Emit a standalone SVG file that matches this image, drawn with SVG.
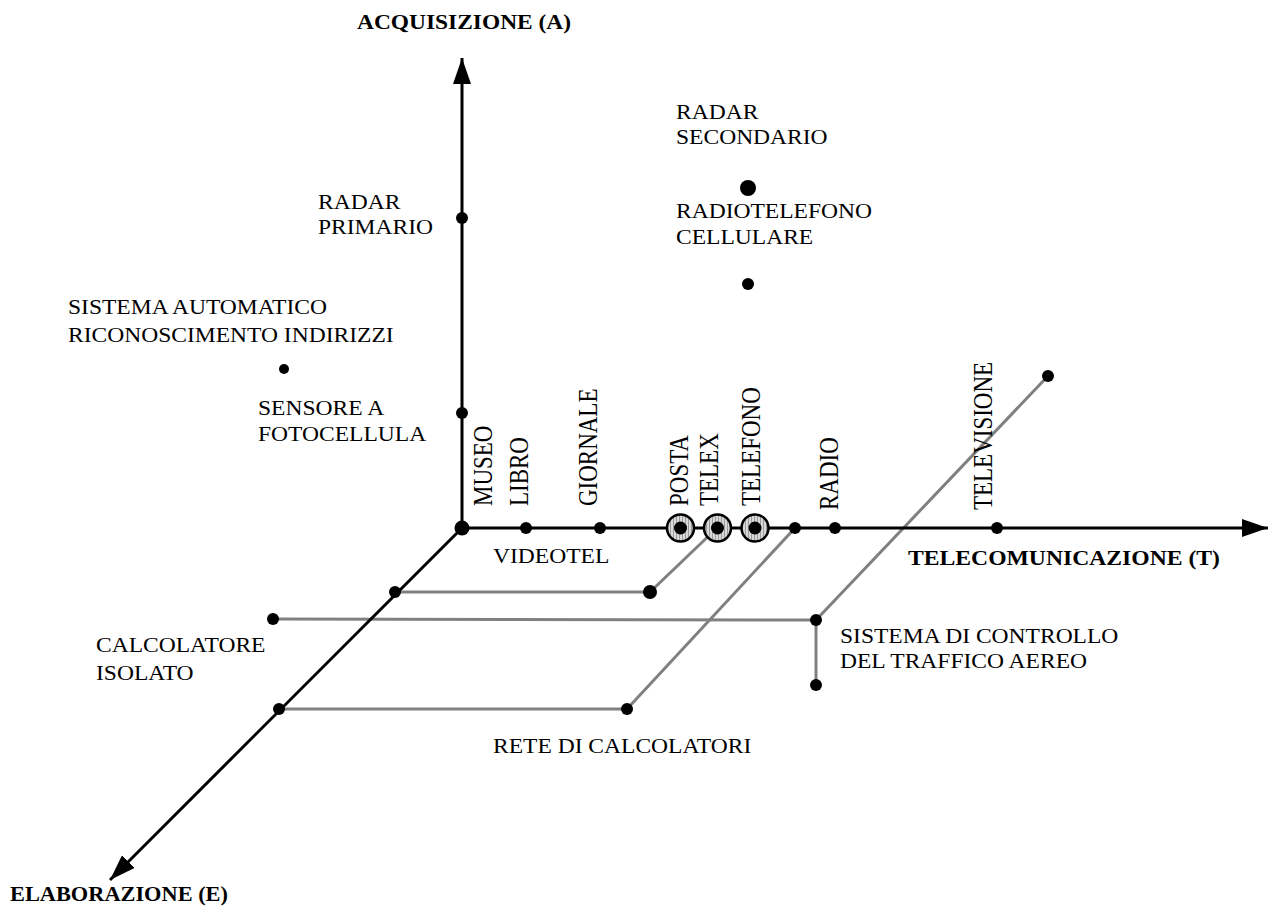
<svg xmlns="http://www.w3.org/2000/svg" width="1270" height="909" viewBox="0 0 1270 909">
<defs>
<style>
.t{font-family:"Liberation Serif","Times New Roman",serif;font-size:22px;fill:#000}
.b{font-family:"Liberation Serif","Times New Roman",serif;font-size:21.5px;font-weight:bold;fill:#000}
.v{font-family:"Liberation Serif","Times New Roman",serif;font-size:23px;fill:#000}
.axis{stroke:#000;stroke-width:3;fill:none}
.gray{stroke:#808080;stroke-width:3;fill:none}
.dot{fill:#000}
.ring{stroke:#000;stroke-width:2.5;fill:url(#hatch)}
</style>
<pattern id="hatch" width="3" height="3" patternUnits="userSpaceOnUse">
<rect width="3" height="3" fill="#d8d8d8"/>
<line x1="1.5" y1="0" x2="1.5" y2="3" stroke="#9a9a9a" stroke-width="1"/>
</pattern>
<marker id="arr" viewBox="0 0 26 18" refX="26" refY="9" markerWidth="26" markerHeight="18" markerUnits="userSpaceOnUse" orient="auto">
<path d="M0,0 L26,9 L0,18 Z" fill="#000"/>
</marker>
</defs>

<g id="connectors">
<polyline class="gray" points="395,592 650,592 717,528"/>
<polyline class="gray" points="273,619 816,620 1048,376"/>
<line class="gray" x1="816" y1="620" x2="816" y2="685"/>
<polyline class="gray" points="279,709 627,709 795,528"/>
<line class="axis" x1="462" y1="528" x2="462" y2="58" marker-end="url(#arr)"/>
<line class="axis" x1="462" y1="528" x2="1268" y2="528" marker-end="url(#arr)"/>
<line class="axis" x1="462" y1="528" x2="110" y2="880" marker-end="url(#arr)"/>
</g>

<g id="axis-A"><text class="b" transform="translate(357,29) scale(1.09,1)">ACQUISIZIONE (A)</text></g>
<g id="axis-T"><text class="b" transform="translate(908,565) scale(1.1,1)">TELECOMUNICAZIONE (T)</text></g>
<g id="axis-E"><text class="b" transform="translate(10,901) scale(1.04,1)">ELABORAZIONE (E)</text></g>

<g id="origin"><circle class="dot" cx="462" cy="528" r="7.5"/></g>

<g id="museo"><text class="v" transform="translate(492,506) scale(1.15,1) rotate(-90)">MUSEO</text></g>
<g id="libro"><circle class="dot" cx="526" cy="528" r="6"/><text class="v" transform="translate(528,506) scale(1.15,1) rotate(-90)">LIBRO</text></g>
<g id="giornale"><circle class="dot" cx="600" cy="528" r="6"/><text class="v" transform="translate(597,506) scale(1.15,1) rotate(-90)">GIORNALE</text></g>
<g id="posta"><circle class="ring" cx="680.5" cy="528" r="13.5"/><circle class="dot" cx="680.5" cy="528" r="6.5"/><text class="v" transform="translate(688,506) scale(1.15,1) rotate(-90)">POSTA</text></g>
<g id="telex"><circle class="ring" cx="717.5" cy="528" r="13.5"/><circle class="dot" cx="717.5" cy="528" r="6.5"/><text class="v" transform="translate(718,506) scale(1.15,1) rotate(-90)">TELEX</text></g>
<g id="telefono"><circle class="ring" cx="755" cy="528" r="13.5"/><circle class="dot" cx="755" cy="528" r="6.5"/><text class="v" transform="translate(760,506) scale(1.15,1) rotate(-90)">TELEFONO</text></g>
<g id="dot-795"><circle class="dot" cx="795" cy="528" r="6"/></g>
<g id="radio"><circle class="dot" cx="835" cy="528" r="6"/><text class="v" transform="translate(838,510) scale(1.15,1) rotate(-90)">RADIO</text></g>
<g id="televisione"><circle class="dot" cx="997" cy="528" r="6"/><text class="v" transform="translate(992,510) scale(1.15,1) rotate(-90)">TELEVISIONE</text></g>

<g id="videotel"><circle class="dot" cx="650" cy="592" r="7"/><text class="t" transform="translate(493,563) scale(1.07,1)">VIDEOTEL</text></g>
<g id="e-dot1"><circle class="dot" cx="395" cy="592" r="6"/></g>

<g id="radar-primario"><circle class="dot" cx="462" cy="218" r="6"/><text class="t" transform="translate(318,209) scale(1.07,1)"><tspan x="0" y="0">RADAR</tspan><tspan x="0" y="25">PRIMARIO</tspan></text></g>
<g id="sensore"><circle class="dot" cx="462" cy="413" r="6"/><text class="t" transform="translate(258,415) scale(1.07,1)"><tspan x="0" y="0">SENSORE A</tspan><tspan x="0" y="26">FOTOCELLULA</tspan></text></g>
<g id="sistema-automatico"><circle class="dot" cx="284" cy="369" r="5"/><text class="t" transform="translate(68,314) scale(1.07,1)"><tspan x="0" y="0">SISTEMA AUTOMATICO</tspan><tspan x="0" y="28">RICONOSCIMENTO INDIRIZZI</tspan></text></g>
<g id="radar-secondario"><circle class="dot" cx="748" cy="188" r="8"/><text class="t" transform="translate(676,119) scale(1.07,1)"><tspan x="0" y="0">RADAR</tspan><tspan x="0" y="25">SECONDARIO</tspan></text></g>
<g id="radiotelefono"><circle class="dot" cx="748" cy="284" r="6"/><text class="t" transform="translate(676,218) scale(1.07,1)"><tspan x="0" y="0">RADIOTELEFONO</tspan><tspan x="0" y="26">CELLULARE</tspan></text></g>

<g id="calcolatore-isolato"><circle class="dot" cx="273" cy="619" r="6"/><text class="t" transform="translate(96,652) scale(1.07,1)"><tspan x="0" y="0">CALCOLATORE</tspan><tspan x="0" y="28">ISOLATO</tspan></text></g>
<g id="controllo-traffico"><circle class="dot" cx="816" cy="620" r="6"/><circle class="dot" cx="816" cy="685" r="6"/><circle class="dot" cx="1048" cy="376" r="6"/><text class="t" transform="translate(840,643) scale(1.07,1)"><tspan x="0" y="0">SISTEMA DI CONTROLLO</tspan><tspan x="0" y="25">DEL TRAFFICO AEREO</tspan></text></g>
<g id="rete-calcolatori"><circle class="dot" cx="279" cy="709" r="6"/><circle class="dot" cx="627" cy="709" r="6"/><text class="t" transform="translate(493,753) scale(1.07,1)">RETE DI CALCOLATORI</text></g>
</svg>
